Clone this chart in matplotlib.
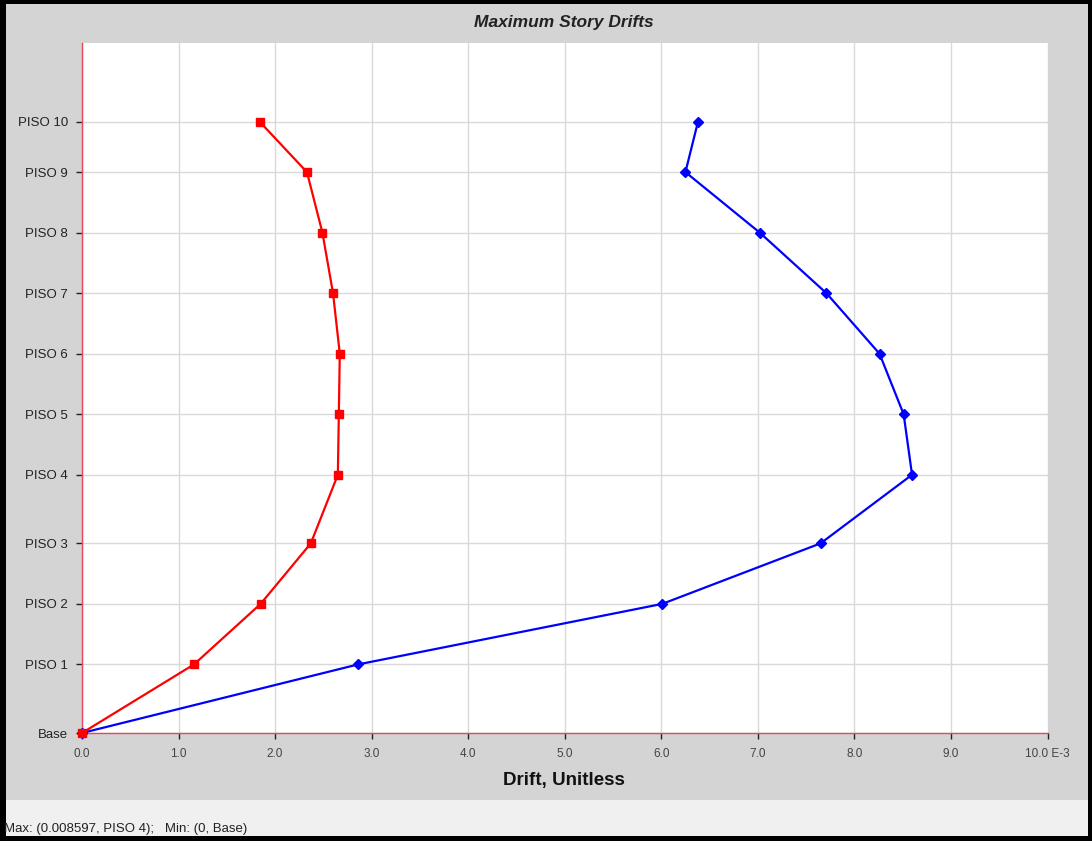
import matplotlib.pyplot as plt
from matplotlib.patches import Rectangle

plt.rcParams['font.family'] = ['Liberation Sans', 'DejaVu Sans']

# story names and elevations (m)
stories = ['Base', 'PISO 1', 'PISO 2', 'PISO 3', 'PISO 4', 'PISO 5',
           'PISO 6', 'PISO 7', 'PISO 8', 'PISO 9', 'PISO 10']
elev = [0.0, 3.4, 6.4, 9.4, 12.8, 15.8, 18.8, 21.8, 24.8, 27.8, 30.3]

# drifts in E-3
drift_x = [0.0, 2.86, 6.01, 7.65, 8.597, 8.51, 8.26, 7.71, 7.02, 6.25, 6.38]
drift_y = [0.0, 1.16, 1.85, 2.37, 2.65, 2.66, 2.67, 2.60, 2.49, 2.33, 1.84]

x_ticks = [0, 1, 2, 3, 4, 5, 6, 7, 8, 9, 10]
x_labels = ['0.0', '1.0', '2.0', '3.0', '4.0', '5.0', '6.0', '7.0', '8.0', '9.0', '10.0 E-3']

W, H = 1092, 841
fig = plt.figure(figsize=(W / 100, H / 100), dpi=100)
fig.patch.set_facecolor('black')

# gray window background and status bar
fig.add_artist(Rectangle((6 / W, 1 - 800 / H), 1082 / W, 796 / H,
                         transform=fig.transFigure, facecolor='#d4d4d4', edgecolor='none', zorder=0))
fig.add_artist(Rectangle((6 / W, 1 - 836 / H), 1082 / W, 36 / H,
                         transform=fig.transFigure, facecolor='#f0f0f0', edgecolor='none', zorder=0))

ax = fig.add_axes([82 / W, 1 - 733 / H, 965.5 / W, 690 / H])
ax.set_facecolor('white')

ax.plot(drift_x, elev, color='#0000ff', lw=1.6, marker='D', ms=5.5, zorder=3, clip_on=False)
ax.plot(drift_y, elev, color='#ff0000', lw=1.6, marker='s', ms=6, zorder=4, clip_on=False)

ax.set_xlim(0, 10)
ax.set_ylim(0, 34.2)
ax.set_xticks(x_ticks)
ax.set_xticklabels(x_labels, fontsize=8.5, color='#444444')
ax.set_yticks(elev)
ax.set_yticklabels(stories, fontsize=9.5, color='#222222')
ax.tick_params(axis='both', length=4, width=1, color='#222222')
ax.tick_params(axis='x', pad=7)
ax.tick_params(axis='y', pad=6)
ax.grid(True, color='#d9d9d9', lw=1)
ax.set_axisbelow(True)

for s in ['top', 'right']:
    ax.spines[s].set_visible(False)
for s in ['left', 'bottom']:
    ax.spines[s].set_color('#e8475a')
    ax.spines[s].set_linewidth(1)

fig.text(564 / W, 1 - 22 / H, 'Maximum Story Drifts', ha='center', va='center',
         fontsize=12.5, fontweight='bold', fontstyle='italic', color='#222222')
fig.text(564 / W, 1 - 780 / H, 'Drift, Unitless', ha='center', va='center',
         fontsize=13.5, fontweight='bold', color='#111111')
fig.text(4 / W, 1 - 829 / H, 'Max: (0.008597, PISO 4);   Min: (0, Base)', ha='left', va='center',
         fontsize=9.5, color='#222222')

fig.savefig('out.png', dpi=100, facecolor=fig.get_facecolor())
